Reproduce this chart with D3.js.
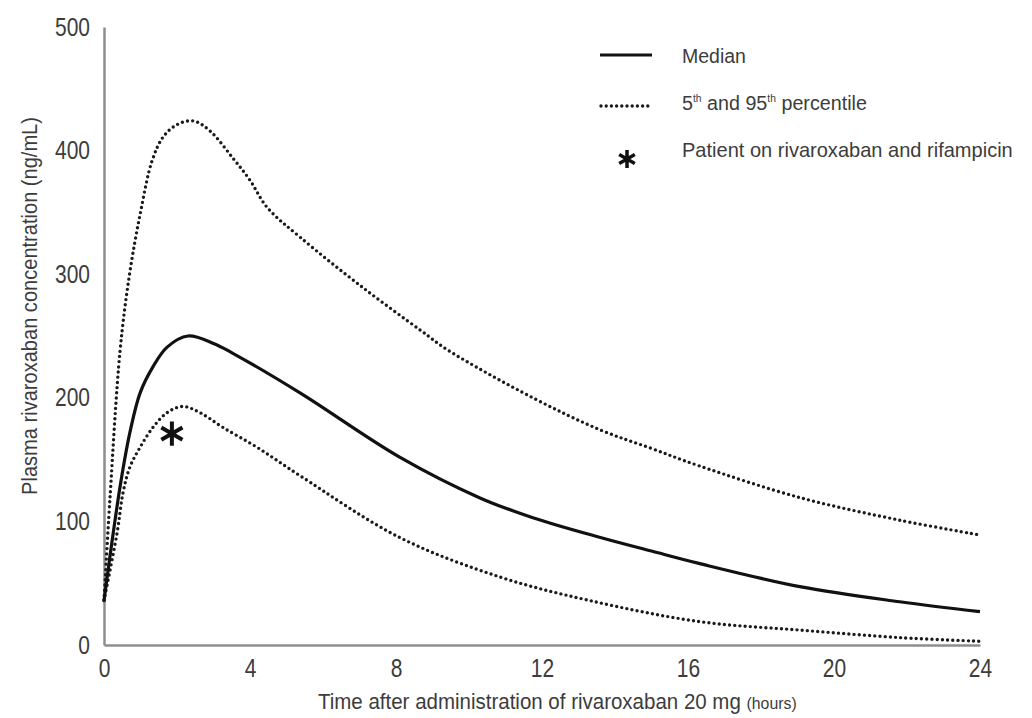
<!DOCTYPE html>
<html>
<head>
<meta charset="utf-8">
<script src="https://cdn.jsdelivr.net/npm/d3@7/dist/d3.min.js"></script>
<style>
  html, body { margin: 0; padding: 0; background: #fff; }
  svg { display: block; }
  .txt { font-family: 'Liberation Sans', Arial, sans-serif; fill: #3c3c3c; }
</style>
</head>
<body>
<svg id="chart" width="1032" height="718"></svg>
<script>
// ---- data ----
const xTicks = [0, 4, 8, 12, 16, 20, 24];
const yTicks = [0, 100, 200, 300, 400, 500];

const upperT = [0, 0.16, 0.44, 0.7, 1.0, 1.32, 1.62, 2.0, 2.45, 2.9, 3.53, 4.0, 4.47, 5.37, 7.1, 8.7, 9.4, 11.75, 13.6, 15.0, 16.3, 19.1, 21.8, 24];
const upperV = [36, 117, 238, 300, 350, 392, 411, 421, 424, 416, 394, 376, 354, 330, 289, 254, 239, 200, 174, 159, 145, 119, 101, 89];

const medianT = [0, 0.44, 0.71, 0.99, 1.34, 1.73, 2.3, 3.0, 3.53, 5.37, 8.1, 10.3, 11.75, 13.6, 15.0, 16.3, 19.1, 21.8, 24];
const medianV = [36, 128, 172, 204, 225, 241, 250, 244, 236, 204, 152, 119, 103, 87, 76, 66, 47, 35, 27];

const lowerT = [0, 0.36, 0.52, 0.71, 0.99, 1.34, 1.73, 2.16, 2.63, 3.26, 4.19, 5.37, 8.1, 10.85, 13.3, 16.3, 19.1, 21.8, 24];
const lowerV = [36, 91, 123, 144, 160, 176, 188, 193, 188, 176, 160, 137, 87, 55, 36, 19, 12, 6, 3];

const patientT = [1.86];
const patientV = [171];

const legendLabels = ["Median", "5th and 95th percentile", "Patient on rivaroxaban and rifampicin"];
const xTitle = "Time after administration of rivaroxaban 20 mg";
const xTitleUnit = "(hours)";
const yTitle = "Plasma rivaroxaban concentration (ng/mL)";

// ---- chart ----
const svg = d3.select("#chart");
const x = d3.scaleLinear().domain([0, 24]).range([104, 980]);
const y = d3.scaleLinear().domain([0, 500]).range([645, 27]);

const axisColor = "#8e8e8e";
const narrow = 0.84; // emulate a condensed face

const gx = svg.append("g").attr("transform", `translate(0,${y(0)})`)
  .call(d3.axisBottom(x).tickValues(xTicks).tickSize(0).tickPadding(14).tickFormat(d3.format("d")));
gx.select(".domain").attr("stroke", axisColor).attr("stroke-width", 2.5);
gx.selectAll("text").attr("class", "txt").attr("font-size", 25).attr("fill", "#3c3c3c")
  .attr("transform", `scale(${narrow},1)`);

const gy = svg.append("g").attr("transform", `translate(${x(0)},0)`)
  .call(d3.axisLeft(y).tickValues(yTicks).tickSize(0).tickPadding(14).tickFormat(d3.format("d")));
gy.select(".domain").attr("stroke", axisColor).attr("stroke-width", 2.5);
gy.selectAll("text").attr("class", "txt").attr("font-size", 25).attr("fill", "#3c3c3c")
  .attr("x", -14 / narrow).attr("transform", `scale(${narrow},1)`);

// fit a text element horizontally to a target width, anchored at its start x
function fit(sel, x0, width) {
  const w = sel.node().getComputedTextLength();
  const k = width / w;
  sel.attr("transform", `translate(${x0},0) scale(${k},1) translate(${-x0},0)`);
}

// titles
const xt = svg.append("text").attr("class", "txt").attr("x", 318).attr("y", 709).attr("font-size", 22);
xt.append("tspan").text(xTitle + " ");
xt.append("tspan").attr("font-size", 17).text(xTitleUnit);
fit(xt, 318, 479);

const yt = svg.append("text").attr("class", "txt")
  .attr("text-anchor", "middle").attr("font-size", 22)
  .text(yTitle);
const ytk = 378 / yt.node().getComputedTextLength();
yt.attr("transform", `translate(37,306) rotate(-90) scale(${ytk},1)`);

// lines
const line = d3.line().x(d => x(d[0])).y(d => y(d[1])).curve(d3.curveCatmullRom.alpha(0.5));
const zip = (a, b) => a.map((t, i) => [t, b[i]]);

function dotted(sel) {
  return sel.attr("fill", "none").attr("stroke", "#1a1a1a").attr("stroke-width", 3.4)
    .attr("stroke-linecap", "round").attr("stroke-dasharray", "0 5.2");
}

dotted(svg.append("path").attr("d", line(zip(upperT, upperV))));
dotted(svg.append("path").attr("d", line(zip(lowerT, lowerV))));
svg.append("path").attr("d", line(zip(medianT, medianV)))
  .attr("fill", "none").attr("stroke", "#111").attr("stroke-width", 3.2);

// patient marker
const ast = d3.symbol().type(d3.symbolAsterisk);
svg.selectAll(".pat").data(zip(patientT, patientV)).enter().append("path")
  .attr("transform", d => `translate(${x(d[0])},${y(d[1])})`)
  .attr("d", ast.size(420)())
  .attr("stroke", "#111").attr("stroke-width", 4).attr("fill", "none");

// legend
const lg = svg.append("g");
lg.append("line").attr("x1", 600).attr("x2", 652).attr("y1", 55).attr("y2", 55)
  .attr("stroke", "#111").attr("stroke-width", 3.2);
dotted(lg.append("line").attr("x1", 601).attr("x2", 651).attr("y1", 106).attr("y2", 106));
lg.append("path").attr("transform", "translate(627,159)").attr("d", ast.size(230)())
  .attr("stroke", "#111").attr("stroke-width", 3.5).attr("fill", "none");

const l1 = lg.append("text").attr("class", "txt").attr("x", 682).attr("y", 63).attr("font-size", 21).text(legendLabels[0]);
fit(l1, 682, 64);
const l2 = lg.append("text").attr("class", "txt").attr("x", 682).attr("y", 110).attr("font-size", 21);
l2.append("tspan").text("5");
l2.append("tspan").attr("font-size", 11).attr("dy", -8).text("th");
l2.append("tspan").attr("dy", 8).text(" and 95");
l2.append("tspan").attr("font-size", 11).attr("dy", -8).text("th");
l2.append("tspan").attr("dy", 8).text(" percentile");
fit(l2, 682, 185);
const l3 = lg.append("text").attr("class", "txt").attr("x", 682).attr("y", 157).attr("font-size", 21).text(legendLabels[2]);
fit(l3, 682, 331);
</script>
</body>
</html>
